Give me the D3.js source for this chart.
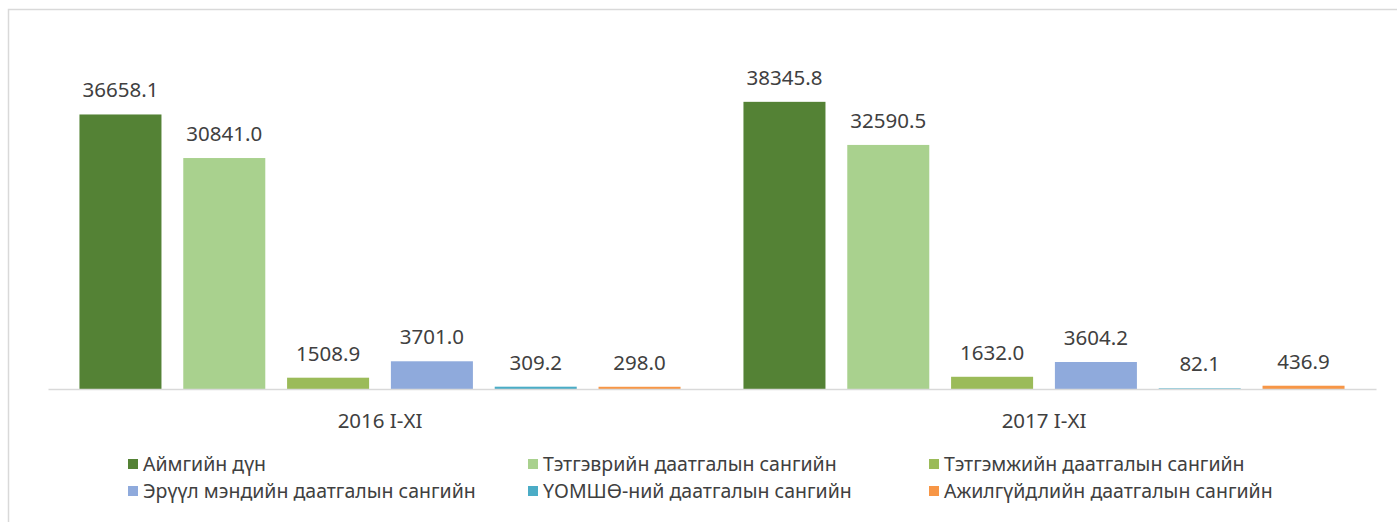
<!DOCTYPE html>
<html>
<head>
<meta charset="utf-8">
<script src="https://cdn.jsdelivr.net/npm/d3@7"></script>
<style>
  body { margin: 0; background: #fff; }
  svg { display: block; font-family: "Noto Sans", sans-serif; }
</style>
</head>
<body>
<div id="chart"></div>
<script>
// data
var periods = ["2016 I-XI", "2017 I-XI"];
var seriesNames = [
    "Аймгийн дүн",
    "Тэтгэврийн даатгалын сангийн",
    "Тэтгэмжийн даатгалын сангийн",
    "Эрүүл мэндийн даатгалын сангийн",
    "ҮОМШӨ-ний даатгалын сангийн",
    "Ажилгүйдлийн даатгалын сангийн"
];
var values2016 = [36658.1, 30841.0, 1508.9, 3701.0, 309.2, 298.0];
var values2017 = [38345.8, 32590.5, 1632.0, 3604.2, 82.1, 436.9];
var seriesColors = ["#548235", "#a9d18e", "#9bbb59", "#8faadc", "#4bacc6", "#f79646"];

var W = 1397, H = 522;
var svg = d3.select("#chart").append("svg")
    .attr("width", W)
    .attr("height", H);

// chart border (cropped on right and bottom)
svg.append("rect")
    .attr("x", 8.5).attr("y", 9.5)
    .attr("width", W + 20).attr("height", H + 20)
    .attr("fill", "#fff")
    .attr("stroke", "#d9d9d9")
    .attr("stroke-width", 1.5);

var rows = periods.map(function (p, i) {
    var vals = i == 0 ? values2016 : values2017;
    return { period: p, values: vals };
});

var x0 = d3.scaleBand()
    .domain(periods)
    .range([48, 1376]);

var x1 = d3.scaleBand()
    .domain(seriesNames)
    .range([0, x0.bandwidth()])
    .paddingInner(0.21)
    .paddingOuter(0.303);

var y = d3.scaleLinear()
    .domain([0, 45000])
    .range([389, 52]);

var fmt = d3.format(".1f");

var groups = svg.append("g").selectAll("g")
    .data(rows)
    .enter().append("g")
    .attr("transform", function (d) { return "translate(" + x0(d.period) + ",0)"; });

var items = function (d) {
    return d.values.map(function (v, i) { return { name: seriesNames[i], value: v, color: seriesColors[i] }; });
};

groups.selectAll("rect")
    .data(items)
    .enter().append("rect")
    .attr("x", function (d) { return x1(d.name); })
    .attr("y", function (d) { return y(d.value); })
    .attr("width", x1.bandwidth())
    .attr("height", function (d) { return y(0) - y(d.value); })
    .attr("fill", function (d) { return d.color; });

// value labels
groups.selectAll("text")
    .data(items)
    .enter().append("text")
    .attr("x", function (d) { return x1(d.name) + x1.bandwidth() / 2; })
    .attr("y", function (d) { return y(d.value) - 17; })
    .attr("text-anchor", "middle")
    .style("font-size", "20.5px")
    .style("fill", "#404040")
    .text(function (d) { return fmt(d.value); });

// x axis
var xAxis = svg.append("g")
    .attr("transform", "translate(0," + y(0) + ")")
    .call(d3.axisBottom(x0).tickSize(0).tickPadding(24));
xAxis.select(".domain")
    .attr("stroke", "#d9d9d9")
    .attr("stroke-width", 1.5);
xAxis.selectAll("text")
    .style("font-family", "Noto Sans, sans-serif")
    .style("font-size", "20.5px")
    .style("fill", "#404040");

// legend
var legendCols = [128, 528, 929];
var legendRows = [464, 491];
var legend = svg.append("g").selectAll("g")
    .data(seriesNames)
    .enter().append("g")
    .attr("transform", function (d, i) {
        return "translate(" + legendCols[i % 3] + "," + legendRows[Math.floor(i / 3)] + ")";
    });
legend.append("rect")
    .attr("x", 0).attr("y", -5)
    .attr("width", 10).attr("height", 10)
    .attr("fill", function (d, i) { return seriesColors[i]; });
legend.append("text")
    .attr("x", 15)
    .attr("y", 0)
    .attr("dy", "0.35em")
    .style("font-size", "19.5px")
    .style("fill", "#404040")
    .text(function (d) { return d; });
</script>
</body>
</html>
